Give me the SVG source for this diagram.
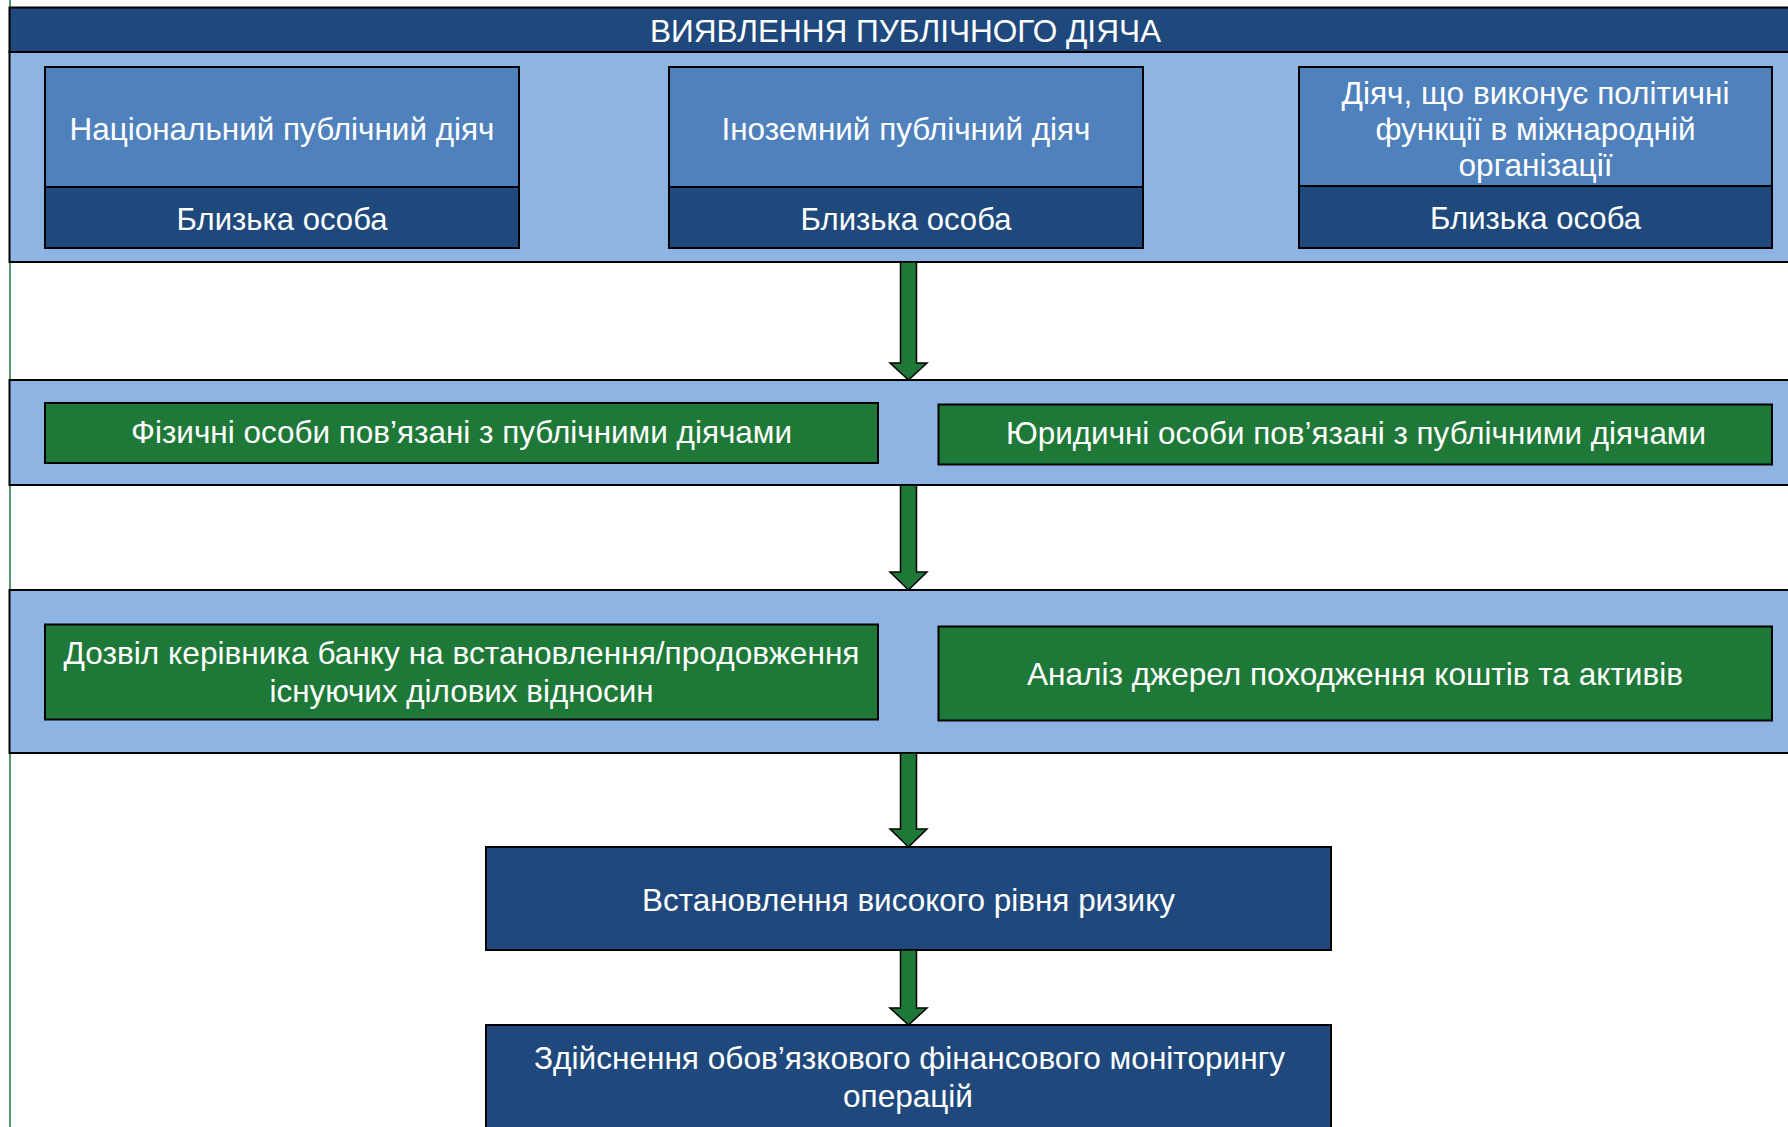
<svg xmlns="http://www.w3.org/2000/svg" width="1788" height="1127" viewBox="0 0 1788 1127">
<style>
text{font-family:"Liberation Sans",Arial,sans-serif;fill:#fff;text-anchor:middle;font-size:32px}
.band{fill:#8EB4E3;stroke:#000;stroke-width:2}
.dark{fill:#1F497D;stroke:#000;stroke-width:2}
.mid{fill:#4F81BD;stroke:#000;stroke-width:2}
.green{fill:#1E7838;stroke:#000;stroke-width:2}
.arrow{fill:#1E7838;stroke:#000;stroke-width:1.5;stroke-linejoin:miter}
.t31{font-size:31.5px}
</style>
<rect width="1788" height="1127" fill="#fff"/>
<line x1="10" y1="0" x2="10" y2="1127" stroke="#1E7838" stroke-width="1.5"/>

<g id="title">
<rect class="dark" x="9.5" y="7.5" width="1800" height="44.5"/>
<text class="t31" x="905.5" y="42" textLength="511" lengthAdjust="spacingAndGlyphs">ВИЯВЛЕННЯ ПУБЛІЧНОГО ДІЯЧА</text>
</g>

<g id="panel-1"><rect class="band" x="9.5" y="52" width="1800" height="210"/></g>
<g id="panel-2"><rect class="band" x="9.5" y="380" width="1800" height="105"/></g>
<g id="panel-3"><rect class="band" x="9.5" y="590" width="1800" height="163"/></g>

<g id="national-pep">
<rect class="mid" x="45" y="67" width="474" height="120"/>
<rect class="dark" x="45" y="187" width="474" height="61"/>
<text x="282" y="140" textLength="425" lengthAdjust="spacingAndGlyphs">Національний публічний діяч</text>
<text x="282" y="230" textLength="211" lengthAdjust="spacingAndGlyphs">Близька особа</text>
</g>

<g id="foreign-pep">
<rect class="mid" x="669" y="67" width="474" height="120"/>
<rect class="dark" x="669" y="187" width="474" height="61"/>
<text x="906" y="140" textLength="369" lengthAdjust="spacingAndGlyphs">Іноземний публічний діяч</text>
<text x="906" y="230" textLength="211" lengthAdjust="spacingAndGlyphs">Близька особа</text>
</g>

<g id="intl-org-pep">
<rect class="mid" x="1299" y="67" width="473" height="119"/>
<rect class="dark" x="1299" y="186" width="473" height="62"/>
<text x="1535.5" y="104" textLength="388" lengthAdjust="spacingAndGlyphs">Діяч, що виконує політичні</text>
<text x="1535.5" y="140" textLength="320" lengthAdjust="spacingAndGlyphs">функції в міжнародній</text>
<text x="1535.5" y="176" textLength="154" lengthAdjust="spacingAndGlyphs">організації</text>
<text x="1535.5" y="229" textLength="211" lengthAdjust="spacingAndGlyphs">Близька особа</text>
</g>

<g id="natural-persons">
<rect class="green" x="45" y="403" width="833" height="60"/>
<text x="461.5" y="443" textLength="661" lengthAdjust="spacingAndGlyphs">Фізичні особи пов’язані з публічними діячами</text>
</g>

<g id="legal-persons">
<rect class="green" x="938.5" y="404.5" width="833.5" height="60"/>
<text x="1356" y="444" textLength="700" lengthAdjust="spacingAndGlyphs">Юридичні особи пов’язані з публічними діячами</text>
</g>

<g id="permission">
<rect class="green" x="45" y="624.5" width="833" height="95"/>
<text x="461.5" y="664" textLength="796" lengthAdjust="spacingAndGlyphs">Дозвіл керівника банку на встановлення/продовження</text>
<text x="461.5" y="702" textLength="384" lengthAdjust="spacingAndGlyphs">існуючих ділових відносин</text>
</g>

<g id="source-analysis">
<rect class="green" x="938.5" y="626.5" width="833.5" height="94"/>
<text x="1355" y="685" textLength="656" lengthAdjust="spacingAndGlyphs">Аналіз джерел походження коштів та активів</text>
</g>

<g id="high-risk">
<rect class="dark" x="486" y="847" width="845" height="103"/>
<text x="908.5" y="911" textLength="533" lengthAdjust="spacingAndGlyphs">Встановлення високого рівня ризику</text>
</g>

<g id="monitoring">
<rect class="dark" x="486" y="1025" width="845" height="110"/>
<text x="909.5" y="1068.5" textLength="751" lengthAdjust="spacingAndGlyphs">Здійснення обов’язкового фінансового моніторингу</text>
<text x="908" y="1106.5" textLength="130" lengthAdjust="spacingAndGlyphs">операцій</text>
</g>

<g id="connectors">
<polygon class="arrow" points="900.5,262 916.5,262 916.5,363 927,363 908.5,380 890,363 900.5,363"/>
<polygon class="arrow" points="900.5,485 916.5,485 916.5,572 927,572 908.5,590 890,572 900.5,572"/>
<polygon class="arrow" points="900.5,753 916.5,753 916.5,829 927,829 908.5,847 890,829 900.5,829"/>
<polygon class="arrow" points="900.5,950 916.5,950 916.5,1008 927,1008 908.5,1025 890,1008 900.5,1008"/>
</g>
</svg>
